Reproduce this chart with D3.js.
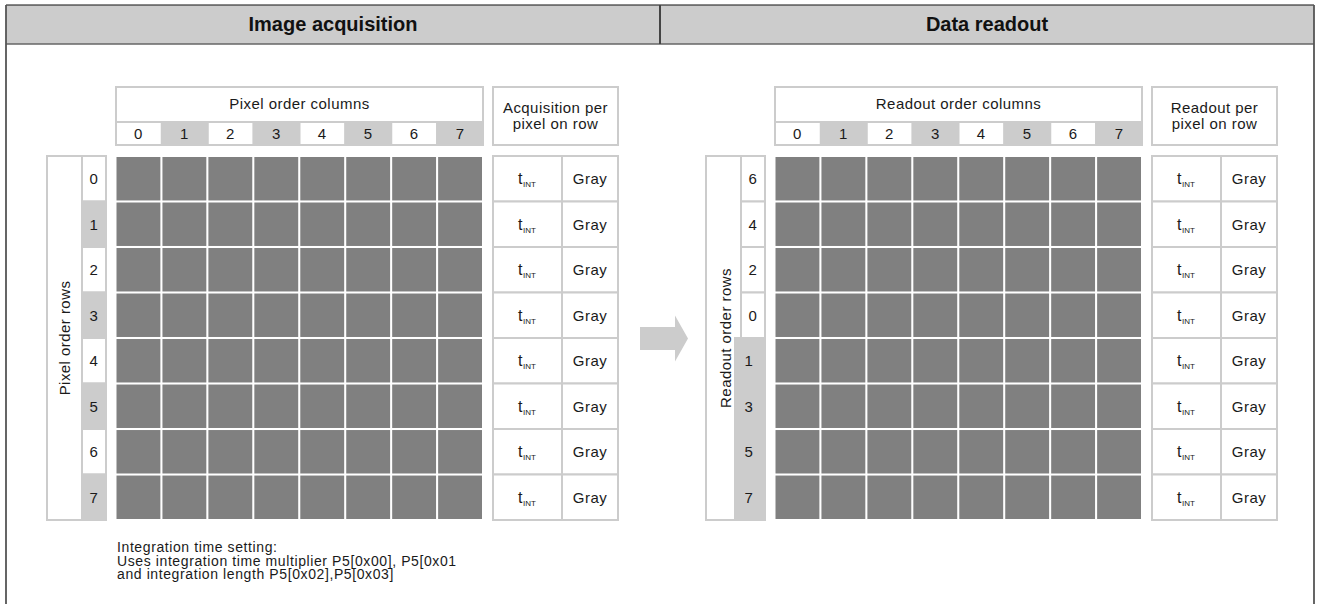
<!DOCTYPE html>
<html>
<head>
<meta charset="utf-8">
<script src="https://cdn.jsdelivr.net/npm/d3@7/dist/d3.min.js"></script>
<style>
  html, body { margin: 0; padding: 0; background: #fff; }
  svg { display: block; font-family: "Liberation Sans", Arial, sans-serif; }
  .lbl { font-size: 15px; fill: #1a1a1a; letter-spacing: 0.45px; }
  .ttl { font-size: 20px; font-weight: bold; fill: #111; }
</style>
</head>
<body>
<svg id="chart" width="1317" height="604"></svg>
<script>
// ---------------- data ----------------
const sectionTitles = ["Image acquisition", "Data readout"];
const columnTitles = ["Pixel order columns", "Readout order columns"];
const rowTitles = ["Pixel order rows", "Readout order rows"];
const tableTitles = [["Acquisition per", "pixel on row"], ["Readout per", "pixel on row"]];
const columnLabels = ["0", "1", "2", "3", "4", "5", "6", "7"];
const columnShaded = [false, true, false, true, false, true, false, true];
const acquisitionRows = ["0", "1", "2", "3", "4", "5", "6", "7"];
const acquisitionRowShaded = [false, true, false, true, false, true, false, true];
const readoutRows = ["6", "4", "2", "0", "1", "3", "5", "7"];
const readoutRowShaded = [false, false, false, false, true, true, true, true];
const rowTiming = ["INT", "INT", "INT", "INT", "INT", "INT", "INT", "INT"];
const rowPixelValue = ["Gray", "Gray", "Gray", "Gray", "Gray", "Gray", "Gray", "Gray"];
const noteLines = [
  "Integration time setting:",
  "Uses integration time multiplier P5[0x00], P5[0x01",
  "and integration length P5[0x02],P5[0x03]"
];

// ---------------- styles / layout ----------------
const C = { light: "#cccccc", cell: "#808080", frame: "#444", head: "#cccccc" };
const W = 1317, H = 604;
const svg = d3.select("#chart");

// frame + header band
const frameL = 6, frameR = 1314, frameT = 5, headB = 44, split = 660;
svg.append("rect").attr("x", frameL).attr("y", frameT).attr("width", frameR - frameL).attr("height", headB - frameT)
  .attr("fill", C.head);
svg.append("line").attr("x1", frameL).attr("x2", frameR).attr("y1", frameT).attr("y2", frameT)
  .attr("stroke", "#111").attr("stroke-width", 1.2);
svg.append("line").attr("x1", frameL).attr("x2", frameR).attr("y1", headB).attr("y2", headB)
  .attr("stroke", "#666").attr("stroke-width", 1.6);
svg.append("line").attr("x1", split).attr("x2", split).attr("y1", frameT).attr("y2", headB)
  .attr("stroke", C.frame).attr("stroke-width", 2);
[frameL, frameR].forEach(x => svg.append("line").attr("x1", x).attr("x2", x).attr("y1", frameT).attr("y2", H)
  .attr("stroke", "#555").attr("stroke-width", 1.8));

const sectionX = d3.scaleBand().domain(sectionTitles).range([frameL, frameR]).paddingInner(0);
svg.selectAll("text.ttl").data(sectionTitles).join("text").attr("class", "ttl")
  .attr("x", d => sectionX(d) + sectionX.bandwidth() / 2)
  .attr("y", 31).attr("text-anchor", "middle").text(d => d);

// arrow between panels
(function () {
  const x0 = 640, xb = 675, tip = 688, cy = 338.5, sh = 11.5, hh = 23;
  const p = d3.path();
  p.moveTo(x0, cy - sh); p.lineTo(xb, cy - sh); p.lineTo(xb, cy - hh); p.lineTo(tip, cy);
  p.lineTo(xb, cy + hh); p.lineTo(xb, cy + sh); p.lineTo(x0, cy + sh); p.closePath();
  svg.append("path").attr("d", p.toString()).attr("fill", C.light);
})();

const panelOffsets = [0, 659];
const panelRows = [acquisitionRows, readoutRows];
const panelShade = [acquisitionRowShaded, readoutRowShaded];
const grayShift = [0, -6];
const rowTitleX = [70, 72];

panelOffsets.forEach((dx, pi) => {
  const g = svg.append("g").attr("transform", `translate(${dx},0)`);
  const rows = panelRows[pi];
  const rowIdx = rows.map((d, i) => i);

  const x = d3.scaleBand().domain(columnLabels).range([116.5, 482]).paddingInner(0.045).paddingOuter(0);
  const y = d3.scaleBand().domain(rowIdx).range([157, 519]).paddingInner(0.045).paddingOuter(0);
  const yRow = d3.scaleBand().domain(rowIdx).range([156, 520]).padding(0);
  const xHead = d3.scaleBand().domain(columnLabels).range([116, 483]).padding(0);

  // column header box
  g.append("rect").attr("x", 116).attr("y", 87).attr("width", 367).attr("height", 58)
    .attr("fill", "#fff").attr("stroke", C.light).attr("stroke-width", 2);
  g.append("text").attr("class", "lbl").attr("x", 299.5).attr("y", 109).attr("text-anchor", "middle")
    .text(columnTitles[pi]);
  g.selectAll("rect.ch").data(columnLabels).join("rect").attr("class", "ch")
    .attr("x", d => xHead(d)).attr("y", 122).attr("width", xHead.bandwidth()).attr("height", 23)
    .attr("fill", (d, i) => columnShaded[i] ? C.light : "#fff")
    .attr("stroke", C.light).attr("stroke-width", 2);
  g.selectAll("text.cl").data(columnLabels).join("text").attr("class", "lbl cl")
    .attr("x", d => x(d) + x.bandwidth() / 2).attr("y", 138.5).attr("text-anchor", "middle").text(d => d);

  // row label box
  g.append("rect").attr("x", 47).attr("y", 156).attr("width", 59).attr("height", 364)
    .attr("fill", "#fff").attr("stroke", C.light).attr("stroke-width", 2);
  g.selectAll("rect.rh").data(rowIdx).join("rect").attr("class", "rh")
    .attr("x", i => panelShade[pi][i] ? 82 + grayShift[pi] : 82)
    .attr("y", i => yRow(i))
    .attr("width", i => panelShade[pi][i] ? 24 - grayShift[pi] - (pi ? 1 : 0) : 24)
    .attr("height", yRow.bandwidth())
    .attr("fill", i => panelShade[pi][i] ? C.light : "#fff")
    .attr("stroke", C.light).attr("stroke-width", 2);
  g.selectAll("text.rl").data(rowIdx).join("text").attr("class", "lbl rl")
    .attr("x", i => panelShade[pi][i] ? 94 + grayShift[pi] / 2 - (pi ? 1 : 0) : 94)
    .attr("y", i => yRow(i) + yRow.bandwidth() / 2 + 5.3).attr("text-anchor", "middle").text(i => rows[i]);
  g.append("text").attr("class", "lbl").attr("text-anchor", "middle")
    .attr("transform", `translate(${rowTitleX[pi]},338) rotate(-90)`).text(rowTitles[pi]);

  // pixel grid
  const cells = [];
  rowIdx.forEach(r => columnLabels.forEach(c => cells.push({ r, c, v: rowPixelValue[r] })));
  g.selectAll("rect.px").data(cells).join("rect").attr("class", "px")
    .attr("x", d => x(d.c)).attr("y", d => y(d.r))
    .attr("width", x.bandwidth()).attr("height", y.bandwidth())
    .attr("fill", C.cell);

  // per-row table
  const tx0 = 493, txm = 562, tx1 = 618;
  g.append("rect").attr("x", tx0).attr("y", 87).attr("width", tx1 - tx0).attr("height", 58)
    .attr("fill", "#fff").attr("stroke", C.light).attr("stroke-width", 2);
  g.selectAll("text.th").data(tableTitles[pi]).join("text").attr("class", "lbl th")
    .attr("x", (tx0 + tx1) / 2).attr("y", (d, i) => 113 + i * 16).attr("text-anchor", "middle").text(d => d);
  g.selectAll("rect.t1").data(rowIdx).join("rect").attr("class", "t1")
    .attr("x", tx0).attr("y", i => yRow(i)).attr("width", txm - tx0).attr("height", yRow.bandwidth())
    .attr("fill", "#fff").attr("stroke", C.light).attr("stroke-width", 2);
  g.selectAll("rect.t2").data(rowIdx).join("rect").attr("class", "t2")
    .attr("x", txm).attr("y", i => yRow(i)).attr("width", tx1 - txm).attr("height", yRow.bandwidth())
    .attr("fill", "#fff").attr("stroke", C.light).attr("stroke-width", 2);
  const tt = g.selectAll("text.tt").data(rowIdx).join("text").attr("class", "lbl tt")
    .attr("x", 518).attr("y", i => yRow(i) + yRow.bandwidth() / 2 + 5.3);
  tt.append("tspan").style("font-size", "16px").text("t");
  tt.append("tspan").attr("dy", 3).style("font-size", "8px").style("letter-spacing", "0px")
    .text(i => rowTiming[i]);
  g.selectAll("text.gv").data(rowIdx).join("text").attr("class", "lbl gv")
    .attr("x", (txm + tx1) / 2).attr("y", i => yRow(i) + yRow.bandwidth() / 2 + 5.3)
    .attr("text-anchor", "middle").text(i => rowPixelValue[i]);
});

// note under left grid
svg.selectAll("text.note").data(noteLines).join("text").attr("class", "lbl note")
  .style("font-size", "14px").style("letter-spacing", "0.6px")
  .attr("x", 117).attr("y", (d, i) => 552 + i * 13.5).text(d => d);
</script>
</body>
</html>
